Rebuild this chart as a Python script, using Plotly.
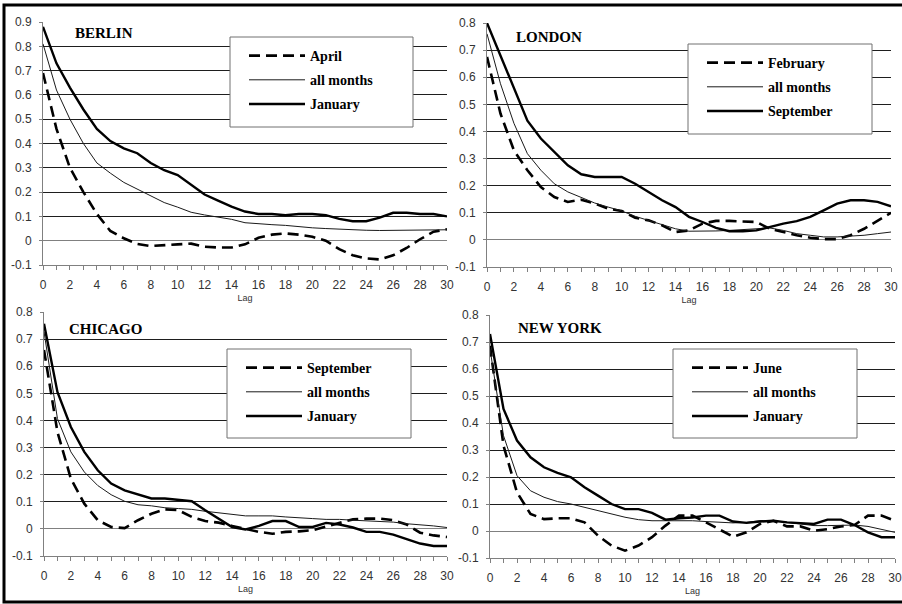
import plotly.graph_objects as go

# ---------------- data ----------------
lags = list(range(31))

berlin_april = [0.69, 0.46, 0.30, 0.20, 0.11, 0.04, 0.01, -0.013, -0.022, -0.02, -0.015, -0.012, -0.025,
                -0.028, -0.028, -0.015, 0.012, 0.025, 0.03, 0.025, 0.016, 0.0, -0.035, -0.06, -0.073,
                -0.077, -0.06, -0.03, 0.006, 0.037, 0.047]
berlin_all = [0.81, 0.62, 0.50, 0.40, 0.32, 0.278, 0.24, 0.212, 0.184, 0.157, 0.138, 0.117, 0.106,
              0.096, 0.088, 0.074, 0.069, 0.066, 0.063, 0.057, 0.053, 0.05, 0.047, 0.043, 0.043,
              0.042, 0.042, 0.042, 0.042, 0.042, 0.045]
berlin_jan = [0.88, 0.73, 0.63, 0.54, 0.46, 0.41, 0.38, 0.36, 0.32, 0.29, 0.27, 0.23, 0.19, 0.165,
              0.14, 0.12, 0.11, 0.11, 0.105, 0.11, 0.11, 0.105, 0.09, 0.08, 0.08, 0.095, 0.115,
              0.115, 0.11, 0.11, 0.10]

london_feb = [0.675, 0.466, 0.33, 0.257, 0.195, 0.158, 0.14, 0.148, 0.134, 0.115, 0.107, 0.082, 0.072,
              0.054, 0.029, 0.035, 0.06, 0.07, 0.07, 0.069, 0.066, 0.041, 0.029, 0.017, 0.008,
              0.003, 0.003, 0.017, 0.041, 0.072, 0.10]
london_all = [0.76, 0.576, 0.43, 0.318, 0.257, 0.207, 0.177, 0.156, 0.136, 0.121, 0.107, 0.087, 0.072,
              0.057, 0.041, 0.032, 0.032, 0.033, 0.035, 0.038, 0.041, 0.044, 0.035, 0.023, 0.017,
              0.011, 0.011, 0.013, 0.017, 0.023, 0.029]
london_sep = [0.80, 0.68, 0.564, 0.44, 0.374, 0.324, 0.275, 0.242, 0.232, 0.232, 0.232, 0.207, 0.177,
              0.146, 0.121, 0.085, 0.066, 0.044, 0.032, 0.032, 0.035, 0.048, 0.06, 0.069, 0.085,
              0.109, 0.134, 0.146, 0.146, 0.14, 0.124]

chicago_sep = [0.66, 0.358, 0.185, 0.093, 0.032, 0.007, 0.003, 0.032, 0.056, 0.072, 0.069, 0.044,
               0.029, 0.023, 0.011, 0.001, -0.011, -0.018, -0.011, -0.009, -0.005, 0.009, 0.023,
               0.035, 0.038, 0.038, 0.032, 0.016, -0.014, -0.024, -0.03]
chicago_all = [0.727, 0.407, 0.284, 0.21, 0.16, 0.126, 0.102, 0.089, 0.085, 0.078, 0.075, 0.072, 0.065,
               0.06, 0.054, 0.048, 0.048, 0.048, 0.044, 0.04, 0.038, 0.035, 0.035, 0.032, 0.029,
               0.028, 0.025, 0.019, 0.016, 0.011, 0.005]
chicago_jan = [0.757, 0.505, 0.376, 0.284, 0.216, 0.167, 0.142, 0.126, 0.112, 0.112, 0.108, 0.102,
               0.069, 0.038, 0.007, -0.002, 0.011, 0.029, 0.029, 0.007, 0.007, 0.022, 0.016, 0.005,
               -0.011, -0.011, -0.021, -0.038, -0.054, -0.063, -0.063]

ny_jun = [0.686, 0.316, 0.143, 0.063, 0.044, 0.047, 0.047, 0.032, -0.017, -0.054, -0.073, -0.054,
          -0.023, 0.02, 0.057, 0.057, 0.032, 0.005, -0.021, -0.005, 0.026, 0.038, 0.017, 0.017,
          0.001, 0.007, 0.017, 0.022, 0.057, 0.057, 0.038]
ny_all = [0.674, 0.353, 0.205, 0.149, 0.125, 0.109, 0.10, 0.088, 0.075, 0.063, 0.051, 0.042, 0.038,
          0.038, 0.038, 0.038, 0.035, 0.032, 0.03, 0.032, 0.038, 0.038, 0.032, 0.026, 0.02, 0.02,
          0.022, 0.022, 0.017, 0.007, -0.005]
ny_jan = [0.73, 0.452, 0.335, 0.273, 0.236, 0.215, 0.199, 0.162, 0.131, 0.10, 0.081, 0.081, 0.067,
          0.042, 0.047, 0.05, 0.057, 0.057, 0.035, 0.03, 0.035, 0.038, 0.032, 0.028, 0.026, 0.042,
          0.042, 0.022, -0.005, -0.023, -0.023]

cities = ["BERLIN", "LONDON", "CHICAGO", "NEW YORK"]
dashed_months = ["April", "February", "September", "June"]
solid_months = ["January", "September", "January", "January"]
all_label = "all months"

x_tick_vals = list(range(0, 31, 2))
x_tick_text = [str(v) for v in x_tick_vals]
y_tick_vals_09 = [-0.1, 0.0, 0.1, 0.2, 0.3, 0.4, 0.5, 0.6, 0.7, 0.8, 0.9]
y_tick_text_09 = ["-0.1", "0", "0.1", "0.2", "0.3", "0.4", "0.5", "0.6", "0.7", "0.8", "0.9"]
y_tick_vals_08 = y_tick_vals_09[:-1]
y_tick_text_08 = y_tick_text_09[:-1]

series = [
    (berlin_april, berlin_all, berlin_jan),
    (london_feb, london_all, london_sep),
    (chicago_sep, chicago_all, chicago_jan),
    (ny_jun, ny_all, ny_jan),
]

# ---------------- layout geometry ----------------
W, H = 902, 604
# plot areas in pixels: left, top, right, bottom
plot_boxes = [(43, 22, 447, 265), (487, 23, 891, 267), (44, 312, 447, 556), (490, 315, 895, 558)]
y_tops = [0.9, 0.8, 0.8, 0.8]
# legend boxes in pixels: left, top, right, bottom
legend_boxes = [(230, 37, 413, 127), (688, 44, 872, 134), (227, 349, 411, 438), (673, 349, 857, 438)]
title_pos = [(0.074, 0.955), (0.067, 0.943), (0.057, 0.93), (0.064, 0.946)]

SERIF = "Liberation Serif, Times New Roman, serif"
SANS = "Liberation Sans, Arial, sans-serif"
AXIS_GRAY = "#808080"

fig = go.Figure()
layout = dict(
    width=W, height=H, margin=dict(l=0, r=0, t=0, b=0, autoexpand=False),
    paper_bgcolor="white", plot_bgcolor="white",
    showlegend=True,
    shapes=[], annotations=[],
)

for i in range(4):
    n = "" if i == 0 else str(i + 1)
    xa, ya = "x" + n, "y" + n
    leg = "legend" + n
    dashed, allm, solid = series[i]
    styles = [
        (dashed, dashed_months[i], dict(color="black", width=2.6, dash="11px,6px")),
        (allm, all_label, dict(color="#1a1a1a", width=1)),
        (solid, solid_months[i], dict(color="black", width=2.4)),
    ]
    for k, (vals, name, line) in enumerate(styles):
        fig.add_trace(go.Scatter(
            x=lags, y=vals, mode="lines", name=name, line=line,
            xaxis=xa, yaxis=ya, legend=leg, legendgroup=f"g{i}_{k}",
            hoverinfo="skip",
        ))

    pl, pt, pr, pb = plot_boxes[i]
    yt_vals = y_tick_vals_09 if y_tops[i] == 0.9 else y_tick_vals_08
    yt_text = y_tick_text_09 if y_tops[i] == 0.9 else y_tick_text_08
    layout["xaxis" + n] = dict(
        domain=[pl / W, pr / W], range=[0, 30], anchor=ya,
        tickmode="array", tickvals=x_tick_vals, ticktext=x_tick_text,
        ticks="outside", ticklen=4, tickcolor=AXIS_GRAY, tickwidth=1,
        minor=dict(dtick=1, tick0=0, ticks="outside", ticklen=4, tickcolor=AXIS_GRAY, showgrid=False),
        showgrid=False, zeroline=False, showline=True, linecolor=AXIS_GRAY, linewidth=1,
        tickfont=dict(family=SANS, size=12, color="#333333"),
        ticklabelstandoff=5, ticklabeloverflow="allow",
        title=dict(text="Lag", font=dict(family=SANS, size=9, color="#333333"), standoff=3),
        fixedrange=True,
    )
    layout["yaxis" + n] = dict(
        domain=[1 - pb / H, 1 - pt / H], range=[-0.1, y_tops[i]], anchor=xa,
        tickmode="array", tickvals=yt_vals, ticktext=yt_text,
        ticks="outside", ticklen=3, tickcolor=AXIS_GRAY, tickwidth=1,
        showgrid=True, gridcolor="#1e1e1e", gridwidth=1,
        zeroline=True, zerolinecolor=AXIS_GRAY, zerolinewidth=1,
        showline=True, linecolor=AXIS_GRAY, linewidth=1,
        tickfont=dict(family=SANS, size=12, color="#333333"),
        ticklabelstandoff=5,
        fixedrange=True,
    )
    bl, bt, br, bb = legend_boxes[i]
    # legend frame: white box hiding the grid lines behind the legend
    layout["shapes"].append(dict(
        type="rect", xref="paper", yref="paper",
        x0=bl / W, x1=br / W, y0=1 - bb / H, y1=1 - bt / H,
        line=dict(color="#707070", width=1), fillcolor="white", layer="above",
    ))
    layout[leg] = dict(
        x=(bl + 14) / W, y=1 - (bt + 3) / H, xanchor="left", yanchor="top",
        xref="paper", yref="paper",
        bgcolor="rgba(0,0,0,0)", borderwidth=0,
        font=dict(family=SERIF, size=14, color="black", weight="bold"),
        itemwidth=56, tracegroupgap=3, traceorder="grouped",
    )
    tx, ty = title_pos[i]
    layout["annotations"].append(dict(
        text=cities[i], xref=xa + " domain", yref=ya + " domain", x=tx, y=ty,
        xanchor="left", yanchor="middle", showarrow=False,
        font=dict(family=SERIF, size=15, color="black", weight="bold"),
    ))

# outer frame
layout["shapes"].append(dict(
    type="rect", xref="paper", yref="paper", x0=4 / W, x1=1.01, y0=2 / H, y1=1 - 5 / H,
    line=dict(color="black", width=3), fillcolor="rgba(0,0,0,0)", layer="above",
))

fig.update_layout(**layout)
fig.write_html(
    "out.html",
    config={"displayModeBar": False},
    post_script="document.body.style.margin='0';document.body.style.overflow='hidden';",
)
